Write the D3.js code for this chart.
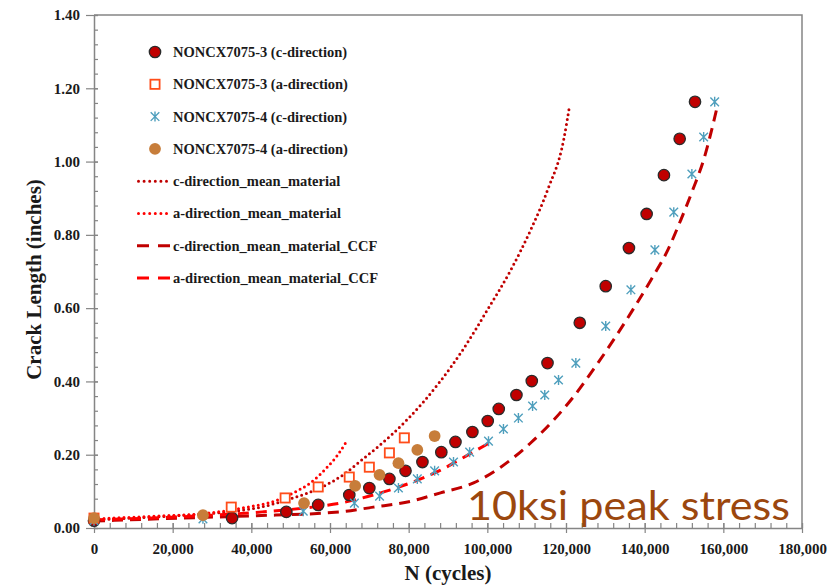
<!DOCTYPE html>
<html>
<head>
<meta charset="utf-8">
<script src="https://cdnjs.cloudflare.com/ajax/libs/d3/7.8.5/d3.min.js"></script>
<style>
  html, body { margin: 0; padding: 0; background: #fff; }
  svg { display: block; }
</style>
</head>
<body>
<svg width="835" height="586"></svg>
<script>
// crack length (inches) vs N (cycles)
var c3N = [0, 35100, 48900, 57000, 64900, 70000, 75100, 79200, 83500, 88300, 91900, 96200, 100100, 102900, 107400, 111300, 115300, 123500, 130100, 136000, 140500, 144900, 148900, 152800]
var c3L = [0.020, 0.027, 0.044, 0.063, 0.090, 0.109, 0.134, 0.156, 0.180, 0.207, 0.235, 0.262, 0.292, 0.325, 0.363, 0.401, 0.450, 0.560, 0.660, 0.764, 0.857, 0.963, 1.062, 1.163]

var a3N = [0, 34900, 48600, 57000, 64900, 70000, 75100, 78900]
var a3L = [0.027, 0.057, 0.082, 0.112, 0.139, 0.166, 0.205, 0.246]

var c4N = [0, 27700, 53200, 66200, 72600, 77400, 82200, 86600, 91400, 95500, 100300, 104100, 107900, 111500, 114600, 118100, 122500, 130100, 136500, 142600, 147400, 152000, 155000, 157800]
var c4L = [0.020, 0.025, 0.046, 0.068, 0.087, 0.109, 0.134, 0.156, 0.180, 0.207, 0.237, 0.270, 0.300, 0.333, 0.363, 0.404, 0.450, 0.551, 0.650, 0.759, 0.862, 0.966, 1.067, 1.163]

var a4N = [0, 27700, 53400, 66400, 72600, 77400, 82200, 86600]
var a4L = [0.027, 0.035, 0.068, 0.115, 0.145, 0.177, 0.213, 0.251]

// model curves
var cMeanN = [0, 20000, 34000, 42000, 50000, 58000, 64000, 68000, 72000, 80000, 88000, 94000, 100000, 106000, 111000, 115300, 119400, 120900]
var cMeanL = [0.022, 0.033, 0.044, 0.056, 0.080, 0.112, 0.150, 0.185, 0.220, 0.300, 0.400, 0.490, 0.595, 0.705, 0.813, 0.922, 1.059, 1.152]

var aMeanN = [0, 15000, 29500, 37900, 46600, 50700, 55000, 59300, 62000, 64200]
var aMeanL = [0.025, 0.032, 0.041, 0.055, 0.076, 0.096, 0.123, 0.166, 0.200, 0.236]

var cCcfN = [0, 21900, 39700, 62600, 71000, 79700, 88100, 96500, 103400, 111000, 116900, 121900, 128100, 136500, 141600, 145900, 149200, 152200, 155000, 158600]
var cCcfL = [0.019, 0.027, 0.033, 0.044, 0.057, 0.071, 0.096, 0.123, 0.166, 0.232, 0.295, 0.358, 0.450, 0.587, 0.677, 0.759, 0.841, 0.922, 1.005, 1.157]

var aCcfN = [0, 30000, 42800, 55500, 62600, 71000, 79700, 88100, 95000, 101300]
var aCcfL = [0.022, 0.035, 0.044, 0.057, 0.068, 0.090, 0.120, 0.158, 0.199, 0.237]

var xTicks = [0, 20000, 40000, 60000, 80000, 100000, 120000, 140000, 160000, 180000]
var yTicks = [0, 0.2, 0.4, 0.6, 0.8, 1.0, 1.2, 1.4]

var legendLabels = [
  'NONCX7075-3 (c-direction)',
  'NONCX7075-3 (a-direction)',
  'NONCX7075-4 (c-direction)',
  'NONCX7075-4 (a-direction)',
  'c-direction_mean_material',
  'a-direction_mean_material',
  'c-direction_mean_material_CCF',
  'a-direction_mean_material_CCF'
]

;(function (d3) {
  var svg = d3.select('svg')
  var serif = '"Liberation Serif", "Times New Roman", serif'

  var darkRed = '#c00000'
  var red = '#ff0000'
  var sqColor = '#ff4d1a'
  var starColor = '#4f9fbd'
  var tan = '#c77d3a'
  var axisColor = '#858585'

  var left = 94, right = 802, top = 15, bottom = 528

  var x = d3.scaleLinear().domain([0, 180000]).range([left, right])
  var y = d3.scaleLinear().domain([0, 1.4]).range([bottom, top])

  function zip (ns, ls) {
    return ns.map(function (n, i) { return {n: n, l: ls[i]} })
  }

  // slide title, cropped: only the descenders reach into the picture
  var titleText = 'Crack Length Comparison'
  var title = svg.append('text')
    .attr('font-family', '"Liberation Sans", Arial, sans-serif')
    .attr('font-weight', 700)
    .attr('font-size', 80)
    .attr('y', -22)
    .text(titleText)
  var gx = title.node().getStartPositionOfChar(titleText.indexOf('g')).x
  title.attr('x', 368 - gx)

  // frame
  svg.append('path')
    .attr('d', 'M' + left + ',' + top + 'H' + right + 'V' + bottom)
    .attr('fill', 'none')
    .attr('stroke', axisColor)
    .attr('stroke-width', 1.5)

  // x axis
  var xMinor = d3.range(0, 180001, 4000)
  svg.append('g')
    .attr('transform', 'translate(0,' + bottom + ')')
    .call(d3.axisBottom(x).tickValues(xMinor).tickSize(-5).tickFormat(''))
    .call(function (g) { g.select('.domain').remove() })
  var xg = svg.append('g')
    .attr('transform', 'translate(0,' + bottom + ')')
    .call(d3.axisBottom(x).tickValues(xTicks).tickSizeInner(5).tickSizeOuter(0)
      .tickPadding(10).tickFormat(d3.format(',')))
  xg.selectAll('.tick line').attr('y1', -5)

  // y axis
  var yMinor = d3.range(0, 1.4001, 0.04)
  svg.append('g')
    .attr('transform', 'translate(' + left + ',0)')
    .call(d3.axisLeft(y).tickValues(yMinor).tickSize(-4).tickFormat(''))
    .call(function (g) { g.select('.domain').remove() })
  var yg = svg.append('g')
    .attr('transform', 'translate(' + left + ',0)')
    .call(d3.axisLeft(y).tickValues(yTicks).tickSizeInner(8).tickSizeOuter(0)
      .tickPadding(6).tickFormat(d3.format('.2f')))
  yg.selectAll('.tick line').attr('x1', 4)

  svg.selectAll('.tick line').attr('stroke', axisColor).attr('stroke-width', 1.2)
  svg.selectAll('.domain').attr('stroke', axisColor).attr('stroke-width', 1.5)
  svg.selectAll('.tick text')
    .attr('font-family', serif)
    .attr('font-weight', 700)
    .attr('font-size', 15)
    .attr('fill', '#1a1a1a')

  // axis titles
  svg.append('text')
    .attr('x', (left + right) / 2)
    .attr('y', 580)
    .attr('text-anchor', 'middle')
    .attr('font-family', serif)
    .attr('font-weight', 700)
    .attr('font-size', 21)
    .attr('fill', '#1a1a1a')
    .text('N (cycles)')

  svg.append('text')
    .attr('transform', 'translate(41,' + ((top + bottom) / 2 + 8) + ') rotate(-90)')
    .attr('text-anchor', 'middle')
    .attr('font-family', serif)
    .attr('font-weight', 700)
    .attr('font-size', 21)
    .attr('fill', '#1a1a1a')
    .text('Crack Length (inches)')

  // model lines
  var ln = d3.line()
    .x(function (d) { return x(d.n) })
    .y(function (d) { return y(d.l) })
    .curve(d3.curveMonotoneX)

  var lines = [
    {data: zip(cMeanN, cMeanL), color: darkRed, dash: '0,5', width: 3, cap: 'round'},
    {data: zip(aMeanN, aMeanL), color: red, dash: '0,5', width: 3, cap: 'round'},
    {data: zip(cCcfN, cCcfL), color: darkRed, dash: '11,7', width: 3, cap: 'butt'},
    {data: zip(aCcfN, aCcfL), color: red, dash: '11,7', width: 3, cap: 'butt'}
  ]

  svg.selectAll('path.model')
    .data(lines)
    .enter()
    .append('path')
    .attr('class', 'model')
    .attr('d', function (d) { return ln(d.data) })
    .attr('fill', 'none')
    .attr('stroke', function (d) { return d.color })
    .attr('stroke-width', function (d) { return d.width })
    .attr('stroke-dasharray', function (d) { return d.dash })
    .attr('stroke-linecap', function (d) { return d.cap })

  // markers
  function darkDot (sel) {
    sel.append('circle').attr('r', 5.7)
      .attr('fill', darkRed).attr('stroke', '#2b2b2b').attr('stroke-width', 1.3)
  }
  function openSquare (sel) {
    sel.append('rect').attr('x', -4.6).attr('y', -4.6).attr('width', 9.2).attr('height', 9.2)
      .attr('fill', '#fff').attr('stroke', sqColor).attr('stroke-width', 1.8)
  }
  function star (sel) {
    sel.append('path')
      .attr('d', 'M0,-5V5M-4.3,-4.3L4.3,4.3M-4.3,4.3L4.3,-4.3')
      .attr('stroke', starColor).attr('stroke-width', 1.4).attr('fill', 'none')
  }
  function tanDot (sel) {
    sel.append('circle').attr('r', 5.9).attr('fill', tan)
  }

  var series = [
    {data: zip(c3N, c3L), mark: darkDot},
    {data: zip(a3N, a3L), mark: openSquare},
    {data: zip(c4N, c4L), mark: star},
    {data: zip(a4N, a4L), mark: tanDot}
  ]

  series.forEach(function (s) {
    svg.append('g')
      .selectAll('g')
      .data(s.data)
      .enter()
      .append('g')
      .attr('transform', function (d) { return 'translate(' + x(d.n) + ',' + y(d.l) + ')' })
      .call(s.mark)
  })

  // legend
  var legend = svg.append('g')
  var rowY = d3.scaleLinear().domain([0, 7]).range([52, 278])
  legendLabels.forEach(function (label, i) {
    var row = legend.append('g').attr('transform', 'translate(0,' + rowY(i) + ')')
    if (i < 4) {
      row.append('g').attr('transform', 'translate(155,0)').call(series[i].mark)
    } else {
      var l = lines[i - 4]
      row.append('line')
        .attr('x1', 137).attr('x2', 170)
        .attr('stroke', l.color)
        .attr('stroke-width', l.width)
        .attr('stroke-dasharray', l.cap === 'round' ? '0,5.6' : '12,9')
        .attr('stroke-linecap', l.cap)
        .attr('transform', l.cap === 'round' ? 'translate(1.5,0)' : null)
    }
    row.append('text')
      .attr('x', 173)
      .attr('y', 5)
      .attr('font-family', serif)
      .attr('font-weight', 700)
      .attr('font-size', 14.5)
      .attr('fill', '#1a1a1a')
      .text(label)
  })

  // annotation
  svg.append('text')
    .attr('x', 467)
    .attr('y', 520)
    .attr('font-family', 'Lato, "Open Sans", sans-serif')
    .attr('font-size', 41)
    .attr('fill', '#9b470e')
    .attr('textLength', 323)
    .attr('lengthAdjust', 'spacingAndGlyphs')
    .text('10ksi peak stress')
})(window.d3)
</script>
</body>
</html>
